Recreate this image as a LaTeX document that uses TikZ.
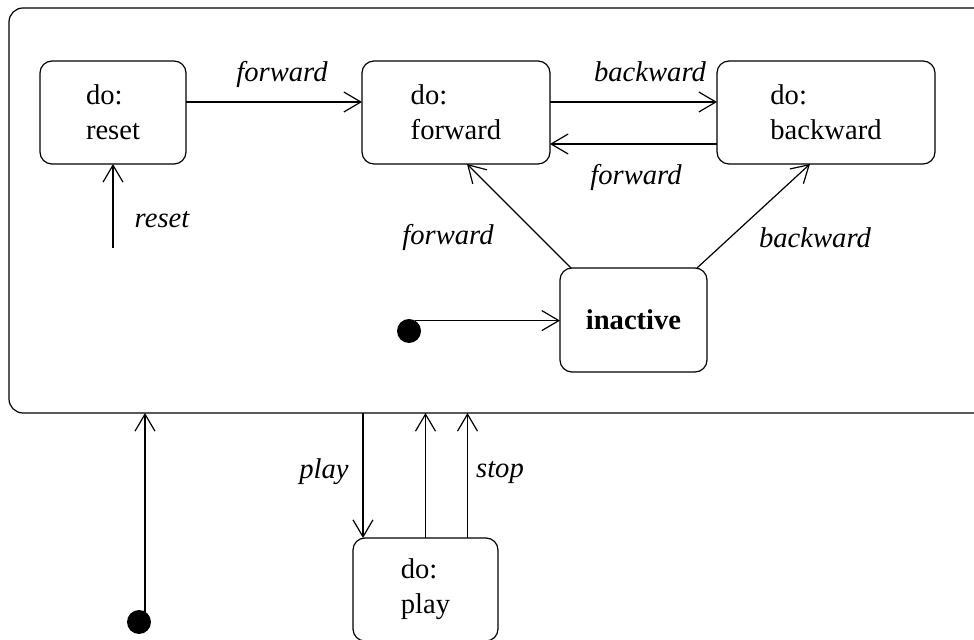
\documentclass[tikz,border=0pt]{standalone}
\usepackage{fontspec}
\setmainfont{Liberation Serif}
\usetikzlibrary{arrows.meta}

\begin{document}
\begin{tikzpicture}[x=0.5pt,y=-0.5pt,line width=0.6pt,
		>={Straight Barb[length=8.5pt,width=10pt]},
		every node/.style={font=\fontsize{14.3}{17.5}\selectfont,inner sep=0pt,outer sep=0pt}]
		\useasboundingbox (0,0) rectangle (974,640);
		\clip (0,0) rectangle (974,640);
		
		\begin{scope}[every node/.append style={draw,rounded corners=6pt,align=left,minimum height=51.5pt}]
			\node[minimum width=490.5pt,minimum height=202.5pt,rounded corners=7pt] (outer) at (499.5,210.5) {};
			\node[minimum width=73pt] (reset) at (113,112.5) {do:\\reset};
			\node[minimum width=94pt] (fwd) at (456,112.5) {do:\\forward};
			\node[minimum width=109pt] (bwd) at (826,112.5) {do:\\backward};
			\node[minimum width=73.5pt,minimum height=52pt] (inact) at (633.5,320) {\bfseries inactive};
			\node[minimum width=72.5pt] (play) at (425.5,589.5) {do:\\play};
		\end{scope}
		
		\begin{scope}[every node/.append style={circle,fill=black,minimum size=12pt}]
			\node (init1) at (409,331) {};
			\node (init0) at (139,622) {};
		\end{scope}
		\coordinate (rst0) at (113,248);
		
		\draw[->] ([yshift=5.25pt]reset.east) -- ([yshift=5.25pt]fwd.west);
		\draw[->] ([yshift=5.25pt]fwd.east) -- ([yshift=5.25pt]bwd.west);
		\draw[->] ([yshift=-15.75pt]bwd.west) -- ([yshift=-15.75pt]fwd.east);
		\draw[->] (rst0) -- (reset.south);
		\draw[->] ([xshift=5.5pt]inact.north west) -- ([xshift=5.5pt]fwd.south);
		\draw[->] ([xshift=-5pt]inact.north east) -- ([xshift=-8pt]bwd.south);
		\draw[->] (init1.60) -- (init1.60 -| inact.west);
		\draw[->] (init0.60) -- (init0.60 |- outer.south);
		\draw[->] ([xshift=5pt]play.north west |- outer.south) -- ([xshift=5pt]play.north west);
		\draw[->] (play.north) -- (play.north |- outer.south);
		\draw[->] ([xshift=21pt]play.north) -- ([xshift=21pt]play.north |- outer.south);
		
		\begin{scope}[every node/.append style={font=\fontsize{14.3}{17.5}\selectfont\itshape,anchor=base}]
			\node (lfwd1) at (282,82) {forward};
			\node (lbwd1) at (650,82) {backward};
			\node (lfwd2) at (636,185) {forward};
			\node (lfwd3) at (448,245) {forward};
			\node (lbwd2) at (815,248) {backward};
			\node (lreset) at (162,228) {reset};
			\node (lplay) at (324,479) {play};
			\node (lstop) at (500,478) {stop};
		\end{scope}
	\end{tikzpicture}
\end{document}
